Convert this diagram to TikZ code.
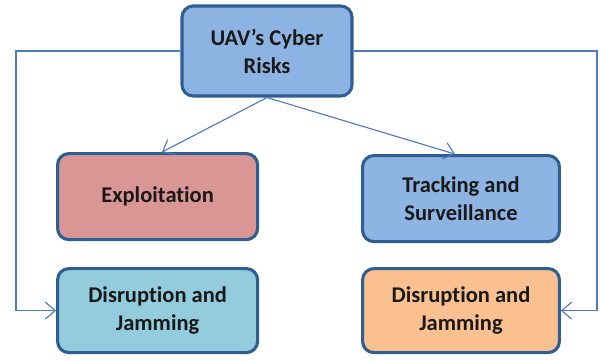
\documentclass[tikz,border=0pt]{standalone}
\usepackage{fontspec}
\setmainfont[RawFeature=-liga]{Carlito}
\usetikzlibrary{arrows.meta}
\definecolor{rimblue}{HTML}{2F5E93}
\definecolor{linkblue}{HTML}{4F78BE}
\definecolor{topfill}{HTML}{8DB3E2}
\definecolor{exfill}{HTML}{D99694}
\definecolor{trfill}{HTML}{8EB4E3}
\definecolor{cyanfill}{HTML}{93CDDD}
\definecolor{orangefill}{HTML}{FAC090}
\tikzset{
  riskbox/.style={draw=rimblue, line width=2.2pt, rounded corners=0.28cm,
    align=center, font=\fontsize{16}{20}\selectfont\bfseries, text=black!90,
    inner sep=0pt},
  link/.style={draw=linkblue, line width=0.8pt, -{Straight Barb[length=7pt,width=12pt]}}
}
\begin{document}
\begin{tikzpicture}[x=1cm,y=1cm]
\useasboundingbox (0,0) rectangle (15.025,9.025);

\node[riskbox, fill=topfill, minimum width=4.25cm, minimum height=2.25cm] (top) at (6.675,7.75) {UAV's Cyber\\Risks};

\node[riskbox, fill=exfill, minimum width=5.0cm, minimum height=2.15cm] (exploit) at (3.94,4.11) {Exploitation};
\node[riskbox, fill=trfill, minimum width=4.92cm, minimum height=2.15cm] (track) at (11.525,4.06) {Tracking and\\Surveillance};

\node[riskbox, fill=cyanfill, minimum width=5.0cm, minimum height=2.1cm] (jamleft) at (3.94,1.26) {Disruption and\\Jamming};
\node[riskbox, fill=orangefill, minimum width=4.92cm, minimum height=2.1cm] (jamright) at (11.525,1.26) {Disruption and\\Jamming};

% branches from the top box
\draw[link] (top.south) -- (exploit.north -| 4.05,0);
\draw[link] (top.south) -- (track.north -| 11.375,0);

% side rails
\draw[link] (top.west) -- (0.4,7.75) |- (jamleft.west);
\draw[link] (top.east) -- (14.925,7.75) |- (jamright.east);
\end{tikzpicture}
\end{document}
